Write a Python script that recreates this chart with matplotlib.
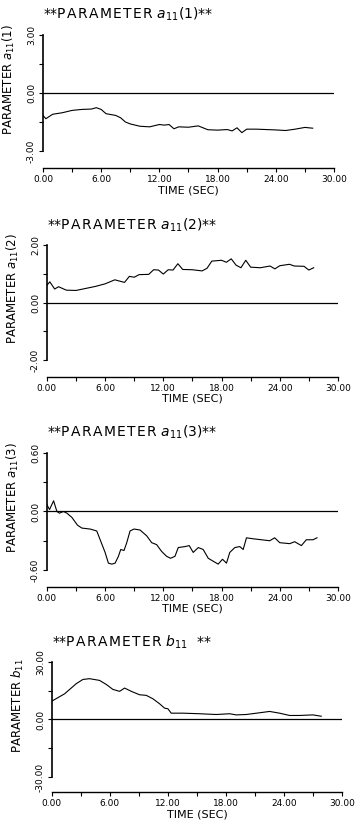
import matplotlib
matplotlib.use("Agg")
import matplotlib.pyplot as plt
import numpy as np

# a11(1)
t1 = [0.0, 0.3, 1.0, 2.0, 3.0, 4.0, 5.0, 5.5, 6.0, 6.5, 7.5, 8.0, 8.5, 9.0, 10.0,
      11.0, 12.0, 12.5, 13.0, 13.5, 14.0, 15.0, 16.0, 17.0, 18.0, 19.0, 19.5,
      20.0, 20.5, 21.0, 22.0, 23.0, 24.0, 25.0, 26.0, 27.0, 27.8]
a1 = [-1.16, -1.33, -1.10, -1.02, -0.90, -0.85, -0.83, -0.76, -0.85, -1.07,
      -1.16, -1.28, -1.50, -1.60, -1.72, -1.75, -1.63, -1.66, -1.63, -1.85,
      -1.75, -1.77, -1.70, -1.90, -1.92, -1.89, -1.96, -1.80, -2.05, -1.87,
      -1.87, -1.89, -1.91, -1.94, -1.87, -1.78, -1.82]

# a11(2)
t2 = [0.0, 0.3, 0.8, 1.2, 2.0, 3.0, 4.0, 5.0, 6.0, 7.0, 8.0, 8.5, 9.0, 9.5,
      10.5, 11.0, 11.5, 12.0, 12.5, 13.0, 13.5, 14.0, 15.0, 16.0, 16.5, 17.0,
      18.0, 18.5, 19.0, 19.5, 20.0, 20.5, 21.0, 22.0, 23.0, 23.5, 24.0, 25.0,
      25.5, 26.5, 27.0, 27.5]
a2 = [0.60, 0.72, 0.47, 0.55, 0.43, 0.42, 0.49, 0.56, 0.65, 0.79, 0.70, 0.91,
      0.88, 0.97, 0.98, 1.14, 1.13, 0.99, 1.14, 1.13, 1.35, 1.15, 1.14, 1.10,
      1.19, 1.44, 1.47, 1.40, 1.52, 1.30, 1.21, 1.47, 1.23, 1.21, 1.27, 1.17,
      1.28, 1.33, 1.27, 1.26, 1.13, 1.21]

# a11(3)
t3 = [0.0, 0.27, 0.69, 1.03, 1.30, 1.71, 2.06, 2.57, 3.15, 3.60, 4.46, 5.14,
      5.49, 6.00, 6.34, 6.69, 7.03, 7.37, 7.61, 7.95, 8.23, 8.57, 8.98, 9.60,
      10.29, 10.80, 11.31, 11.83, 12.34, 12.75, 13.20, 13.54, 14.23, 14.67,
      15.08, 15.60, 16.11, 16.63, 17.14, 17.65, 18.10, 18.51, 18.85, 19.37,
      19.88, 20.23, 20.57, 21.26, 22.11, 22.97, 23.48, 24.00, 25.03, 25.54,
      26.23, 26.74, 27.43, 27.84]
a3 = [0.07, 0.02, 0.11, 0.0, -0.017, 0.0, -0.017, -0.06, -0.14, -0.17, -0.18,
      -0.20, -0.29, -0.42, -0.53, -0.54, -0.53, -0.46, -0.39, -0.40, -0.32,
      -0.20, -0.18, -0.19, -0.25, -0.32, -0.34, -0.41, -0.46, -0.48, -0.46,
      -0.37, -0.36, -0.35, -0.42, -0.37, -0.39, -0.48, -0.51, -0.54, -0.49,
      -0.53, -0.42, -0.37, -0.36, -0.39, -0.27, -0.28, -0.29, -0.30, -0.27,
      -0.32, -0.33, -0.31, -0.35, -0.29, -0.29, -0.27]

# b11
t4 = [0.0, 1.31, 2.52, 3.21, 3.90, 4.93, 5.62, 6.31, 7.00, 7.52, 8.21, 9.07,
      9.76, 10.45, 11.14, 11.66, 12.00, 12.34, 13.55, 15.28, 17.0, 18.38,
      19.07, 20.10, 21.48, 22.52, 23.55, 24.59, 25.62, 27.0, 27.86]
b1 = [9.6, 13.4, 18.7, 20.9, 21.3, 20.4, 18.3, 15.7, 14.7, 16.4, 14.7, 12.9,
      12.6, 10.8, 8.2, 5.9, 5.6, 3.3, 3.3, 3.0, 2.6, 3.0, 2.4, 2.6, 3.5, 4.2,
      3.3, 2.1, 2.1, 2.4, 1.7]

sp = "\u200a".join("PARAMETER")
titles = ["**" + sp + r" $\mathit{a}_{11}(1)$**", "**" + sp + r" $\mathit{a}_{11}(2)$**",
          "**" + sp + r" $\mathit{a}_{11}(3)$**", "**" + sp + r" $\mathit{b}_{11}$  **"]
ylabels = [r"PARAMETER $\mathit{a}_{11}(1)$", r"PARAMETER $\mathit{a}_{11}(2)$",
           r"PARAMETER $\mathit{a}_{11}(3)$", r"PARAMETER $\mathit{b}_{11}$"]
ylims = [3.0, 2.0, 0.6, 30.0]
xs = [t1, t2, t3, t4]
ys = [a1, a2, a3, b1]

# left, bottom, width, height, x-axis offset (px)
boxes = [(0.120, 0.8174, 0.813, 0.1403, 12),
         (0.131, 0.5647, 0.813, 0.1390, 12),
         (0.131, 0.3108, 0.813, 0.1414, 12),
         (0.145, 0.0605, 0.810, 0.1390, 11)]

fig = plt.figure(figsize=(3.58, 8.27), dpi=100)

for i in range(4):
    l, b, w, h, off = boxes[i]
    ax = fig.add_axes([l, b, w, h])
    lim = ylims[i]
    ax.plot(xs[i], ys[i], color="black", lw=0.8)
    ax.axhline(0, color="black", lw=0.9)
    ax.set_xlim(0, 30)
    ax.set_ylim(-lim, lim)
    ax.spines["top"].set_visible(False)
    ax.spines["right"].set_visible(False)
    ax.spines["bottom"].set_position(("outward", off))
    ax.spines["left"].set_linewidth(1.2)
    ax.spines["bottom"].set_linewidth(1.0)
    ax.set_xticks(np.arange(0, 31, 6))
    ax.set_xticks(np.arange(0, 31, 3), minor=True)
    ax.set_xticklabels(["%.2f" % v for v in np.arange(0, 31, 6)], fontsize=6.5)
    ax.set_yticks([-lim, 0, lim])
    ax.set_yticks([-lim, -lim / 2, 0, lim / 2, lim], minor=True)
    ax.set_yticklabels(["%.2f" % v for v in [-lim, 0, lim]], fontsize=6.5,
                       rotation=90, va="center")
    ax.tick_params(which="both", direction="out", length=3, width=0.8, pad=2)
    ax.set_xlabel("TIME (SEC)", fontsize=8, labelpad=1)
    ax.set_ylabel(ylabels[i], fontsize=8.5, labelpad=2)
    ax.yaxis.set_label_coords(-0.09, 0.62)
    ax.text(0.0, 1.1, titles[i], transform=ax.transAxes, fontsize=10,
            ha="left", va="bottom")

fig.savefig("out.png", dpi=100)
